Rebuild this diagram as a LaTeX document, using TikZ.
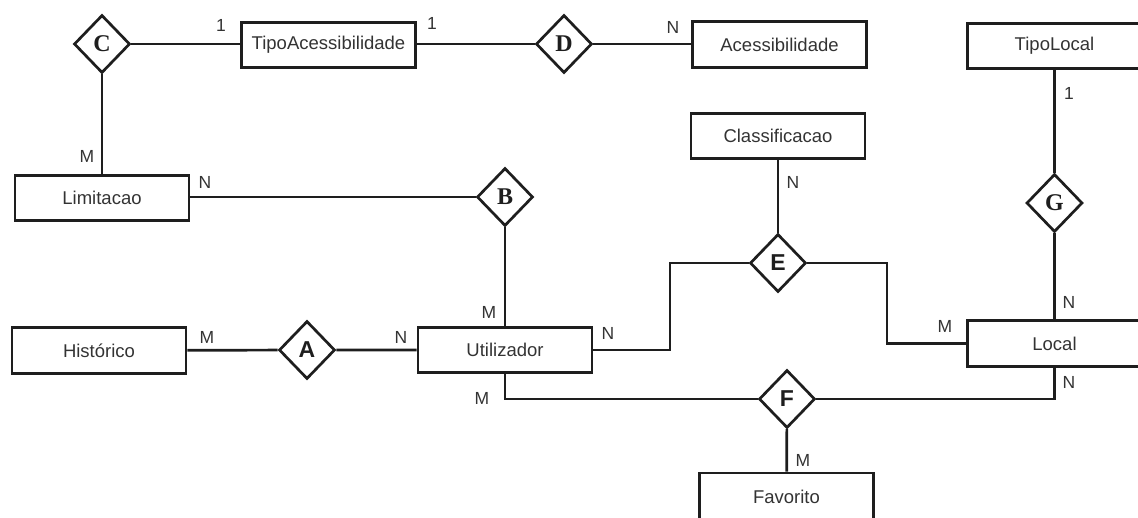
\documentclass[tikz,border=0pt]{standalone}
\usepackage{fontspec}
\setmainfont{Liberation Sans}
\newfontfamily\letterserif{Liberation Serif}
\usetikzlibrary{shapes.geometric}
\definecolor{ink}{HTML}{1E1E1E}
\definecolor{txt}{HTML}{333333}

\begin{document}
\begin{tikzpicture}[x=1pt,y=-1pt,
  entity/.style={draw=ink, line width=2.7pt, minimum width=174pt, minimum height=45.5pt,
                 inner sep=0pt, text=txt, font=\fontsize{18.5}{20}\selectfont},
  rel/.style={diamond, draw=ink, line width=2.7pt, minimum width=56pt, minimum height=58pt,
              inner sep=0pt, text=ink},
  relserif/.style={rel, font=\letterserif\bfseries\fontsize{24}{24}\selectfont},
  relsans/.style={rel, font=\bfseries\fontsize{23}{23}\selectfont},
  link/.style={draw=ink, line width=2.7pt},
  card/.style={text=txt, font=\fontsize{17.5}{19}\selectfont, inner sep=0pt}]

\useasboundingbox (0,0) rectangle (1138,517);
\clip (0,0) rectangle (1138,517);

% entities
\node[entity] (ta)   at (328.5,45)   {TipoAcessibilidade};
\node[entity] (acc)  at (779.5,44.5) {Acessibilidade};
\node[entity] (tl)   at (1054.5,46)  {TipoLocal};
\node[entity] (cls)  at (778,136)    {Classificacao};
\node[entity] (lim)  at (102,198)    {Limitacao};
\node[entity] (hist) at (99,350.5)   {Histórico};
\node[entity] (util) at (505,350)    {Utilizador};
\node[entity] (loc)  at (1054.5,343.5) {Local};
\node[entity, minimum height=56pt, text depth=8pt] (fav) at (786.5,501) {Favorito};

% relationships
\node[relserif] (rC) at (102,44)  {C};
\node[relserif] (rD) at (564,44)  {D};
\node[relserif] (rB) at (505,197) {B};
\node[relsans]  (rA) at (307,350) {A};
\node[relsans]  (rE) at (778,263) {E};
\node[relsans]  (rF) at (787,399) {F};
\node[relserif] (rG) at (1054.5,203) {G};

% connectors
\draw[link] (rC.east) -- (rC.east -| ta.west);
\draw[link] (ta.east |- rD.west) -- (rD.west);
\draw[link] (rD.east) -- (rD.east -| acc.west);
\draw[link] (rC.south) -- (rC.south |- lim.north);
\draw[link] (lim.east |- rB.west) -- (rB.west);
\draw[link] (rB) -- (util);
\draw[link] (hist) -- (rA) -- (util);
\coordinate (kE1) at (670,263);
\draw[link] (util.east) -| (kE1) -- (rE.west);
\coordinate (kE2) at (887,263);
\draw[link] (rE.east) -- (kE2) |- (loc.west);
\draw[link] (cls) -- (rE);
\coordinate (kF1) at (505,399);
\draw[link] (util.south) -- (kF1) -- (rF.west);
\draw[link] (rF.east) -| (loc.south);
\draw[link] (rF) -- (fav);
\draw[link] (tl) -- (rG) -- (loc);

% cardinalities
\node[card] (n1)  at (221,25)  {1};
\node[card] (n2)  at (432,23)  {1};
\node[card] (n3)  at (673,27)  {N};
\node[card] (n4)  at (87,156)  {M};
\node[card] (n5)  at (205,182) {N};
\node[card] (n6)  at (793,182) {N};
\node[card] (n7)  at (1069,93) {1};
\node[card] (n8)  at (1069,302) {N};
\node[card] (n9)  at (945,326) {M};
\node[card] (n10) at (1069,382) {N};
\node[card] (n11) at (207,337) {M};
\node[card] (n12) at (401,337) {N};
\node[card] (n13) at (489,312) {M};
\node[card] (n14) at (608,333) {N};
\node[card] (n15) at (482,398) {M};
\node[card] (n16) at (803,460) {M};
\end{tikzpicture}
\end{document}
